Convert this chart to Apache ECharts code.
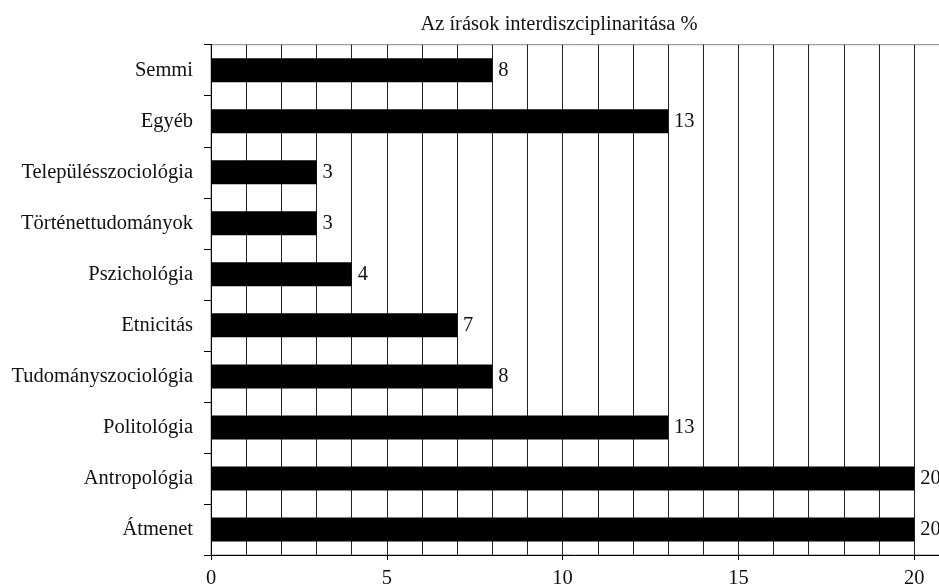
<!DOCTYPE html>
<html>
<head>
<meta charset="utf-8">
<script src="https://cdn.jsdelivr.net/npm/echarts@6/dist/echarts.min.js"></script>
<style>
html,body{margin:0;padding:0;background:#fff;}
#chart{width:939px;height:586px;}
</style>
</head>
<body>
<div id="chart"></div>
<script>
const titleText = 'Az írások interdiszciplinaritása %';
const categories = ['Átmenet','Antropológia','Politológia','Tudományszociológia','Etnicitás','Pszichológia','Történettudományok','Településszociológia','Egyéb','Semmi'];
const values = [20,20,13,8,7,4,3,3,13,8];
const xTickLabels = [0,5,10,15,20];

const FONT = 'Liberation Serif';
const chart = echarts.init(document.getElementById('chart'), null, {renderer:'canvas'});
chart.setOption({
  animation:false,
  backgroundColor:'#fff',
  title:{
    text:titleText,
    left:554, top:9, textAlign:'center',
    textStyle:{fontFamily:FONT,fontSize:20.5,fontWeight:'normal',color:'#111'}
  },
  grid:{left:211, top:44.7, bottom:31, right:-151, outerBoundsMode:'none', containLabel:false,
        show:true, borderColor:'#888', borderWidth:1, backgroundColor:'transparent'},
  xAxis:{
    type:'value', min:0, max:25, interval:5,
    axisLine:{show:true,lineStyle:{color:'#000',width:1}},
    axisTick:{show:true,length:5,lineStyle:{color:'#000'}},
    axisLabel:{margin:13,fontFamily:FONT,fontSize:20.5,color:'#111',
      formatter:function(v){return xTickLabels.indexOf(v)>=0?String(v):'';}},
    splitLine:{show:true,lineStyle:{color:'#222',width:1}},
    minorTick:{show:false,splitNumber:5},
    minorSplitLine:{show:true,lineStyle:{color:'#222',width:1}}
  },
  yAxis:{
    type:'category', data:categories,
    axisLine:{show:true,lineStyle:{color:'#000',width:1}},
    axisTick:{show:true,length:7,alignWithLabel:false,lineStyle:{color:'#000'}},
    axisLabel:{margin:18,fontFamily:FONT,fontSize:20.5,color:'#111'},
    splitLine:{show:false}
  },
  series:[{
    type:'bar', data:values, barWidth:24,
    itemStyle:{color:'#000'},
    label:{show:true,position:'right',distance:6,fontFamily:FONT,fontSize:20.5,color:'#111'}
  }]
});
</script>
</body>
</html>
